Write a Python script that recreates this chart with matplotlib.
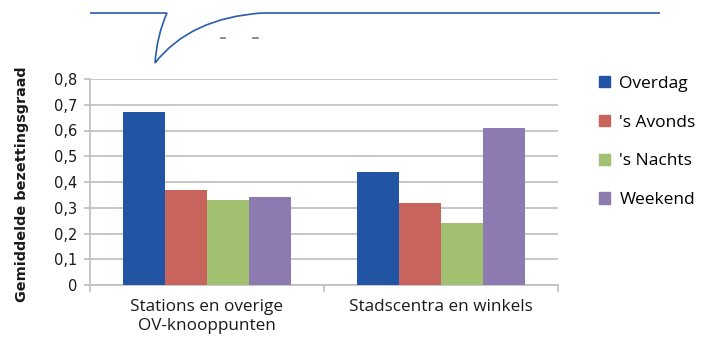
import matplotlib
matplotlib.use("Agg")
import matplotlib.pyplot as plt
import numpy as np
from matplotlib.path import Path
from matplotlib.patches import PathPatch, Rectangle
from matplotlib.lines import Line2D

categories = ["Stations en overige\nOV-knooppunten", "Stadscentra en winkels"]
series_names = ["Overdag", "'s Avonds", "'s Nachts", "Weekend"]
overdag = [0.67, 0.44]
avonds = [0.37, 0.32]
nachts = [0.33, 0.24]
weekend = [0.34, 0.61]
yticks = [0, 0.1, 0.2, 0.3, 0.4, 0.5, 0.6, 0.7, 0.8]
ytick_labels = ["0", "0,1", "0,2", "0,3", "0,4", "0,5", "0,6", "0,7", "0,8"]

colors = ["#2254A4", "#C8645B", "#A1C170", "#8C7AB0"]
grid_col = "#BEBEBE"
text_font = ["Open Sans", "DejaVu Sans"]

fig = plt.figure(figsize=(7.04, 3.38), dpi=100)
ax = fig.add_axes([90 / 704, 1 - 285 / 338, (558 - 90) / 704, (285 - 79) / 338])

values = [overdag, avonds, nachts, weekend]
x = np.arange(len(categories))
width = 0.179
for i, (vals, col) in enumerate(zip(values, colors)):
    ax.bar(x + (i - 1.5) * width, vals, width, color=col, zorder=3)

ax.set_xlim(-0.5, len(categories) - 0.5)
ax.set_ylim(0, 0.8)
ax.set_yticks(yticks)
ax.set_yticklabels(ytick_labels, fontsize=10.5, family="DejaVu Sans", color="#1a1a1a")
ax.set_xticks(np.arange(-0.5, len(categories), 1.0))
ax.set_xticklabels([])
ax.set_xticks(x, minor=True)
ax.set_xticklabels(categories, minor=True, fontsize=12.3, family=text_font,
                   color="#1a1a1a", linespacing=1.25)
ax.tick_params(axis="x", which="minor", length=0, pad=10)
ax.tick_params(axis="x", which="major", length=5, color=grid_col, width=1.2)
ax.tick_params(axis="y", length=4, color=grid_col, width=1.2, pad=5)
ax.grid(axis="y", color=grid_col, linewidth=1.2, zorder=0)
ax.set_axisbelow(True)
for s in ["top", "right"]:
    ax.spines[s].set_visible(False)
for s in ["left", "bottom"]:
    ax.spines[s].set_color(grid_col)
    ax.spines[s].set_linewidth(1.2)

ax.set_ylabel("Gemiddelde bezettingsgraad", fontsize=10.4, fontweight="bold",
              family="DejaVu Sans", color="#1a1a1a")
ax.yaxis.set_label_coords(-0.13, 0.49)

# legend
handles = [Rectangle((0, 0), 1, 1, color=c) for c in colors]
leg = fig.legend(handles, series_names, loc="upper left", bbox_to_anchor=(583 / 704, 1 - 60 / 338),
                 frameon=False, prop={"family": text_font, "size": 12.5},
                 handlelength=0.65, handleheight=0.65, handletextpad=0.55, labelspacing=1.32)

# callout outline across the top
ov = fig.add_axes([0, 0, 1, 1], zorder=5)
ov.set_xlim(0, 704)
ov.set_ylim(338, 0)
ov.axis("off")
verts = [(90, 13), (167, 13),
         (157, 35), (155, 63),
         (190, 18), (262, 13),
         (660, 13)]
codes = [Path.MOVETO, Path.LINETO,
         Path.CURVE3, Path.CURVE3,
         Path.CURVE3, Path.CURVE3,
         Path.LINETO]
ov.add_patch(PathPatch(Path(verts, codes), facecolor="none", edgecolor="#2A5CAA", linewidth=1.2))
ov.add_line(Line2D([221, 225], [38, 38], color="#777777", linewidth=1.2))
ov.add_line(Line2D([253, 258], [38, 38], color="#777777", linewidth=1.2))

fig.savefig("out.png", dpi=100)
